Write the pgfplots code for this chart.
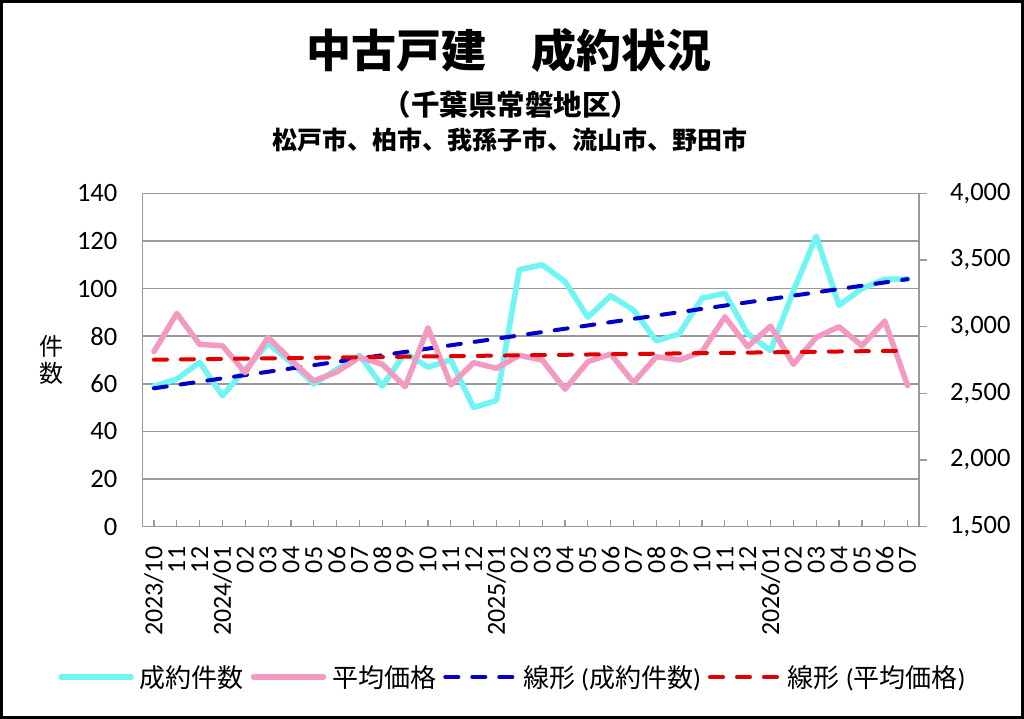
\documentclass[border=0pt]{standalone}
\usepackage{fontspec}
\setmainfont{Carlito}
\newfontfamily\jp{Noto Sans CJK JP}
\usepackage{pgfplots}
\usepackage{pgfplotstable}
\pgfplotsset{compat=1.18}
\definecolor{cCyan}{HTML}{70F5F5}
\definecolor{cPink}{HTML}{F49AC2}
\definecolor{cBlue}{HTML}{0000C8}
\definecolor{cRed}{HTML}{E00000}
\definecolor{cGrid}{HTML}{9A9A9A}

\pgfplotstableread{
i  count price
0  59  2812
1  62  3100
2  69  2867
3  55  2857
4  66  2655
5  77  2920
6  69  2750
7  60  2593
8  66  2660
9  72  2770
10 59  2718
11 73  2550
12 67  2992
13 70  2563
14 50  2730
15 53  2688
16 108 2785
17 110 2750
18 103 2531
19 88  2737
20 97  2795
21 91  2580
22 78  2775
23 81  2750
24 96  2812
25 98  3074
26 81  2850
27 74  3005
28 99  2718
29 122 2920
30 93  3000
31 100 2857
32 104 3042
33 104 2558
}\datatable

\begin{document}
\begin{tikzpicture}[x=1pt,y=1pt]
\useasboundingbox (0,0) rectangle (1024,719);
\draw[line width=3pt] (1.5,1.5) rectangle (1022.5,717.5);
\node[font=\jp\bfseries\fontsize{45}{54}\selectfont] at (509,669) {中古戸建　成約状況};
\node[font=\jp\bfseries\fontsize{28.5}{34}\selectfont] at (511,614) {（千葉県常磐地区）};
\node[font=\jp\bfseries\fontsize{25}{30}\selectfont] at (510,579) {松戸市、柏市、我孫子市、流山市、野田市};
\node[font=\jp\fontsize{24}{27}\selectfont, align=center, inner sep=0pt] at (51,359) {件\\数};

\begin{axis}[
  at={(142.5pt,192.5pt)}, anchor=south west,
  scale only axis, width=776.5pt, height=333pt,
  xmin=-0.5, xmax=33.5, ymin=0, ymax=140,
  xtick={0,...,33},
  xticklabels={2023/10,11,12,2024/01,02,03,04,05,06,07,08,09,10,11,12,2025/01,02,03,04,05,06,07,08,09,10,11,12,2026/01,02,03,04,05,06,07},
  ytick={0,20,...,140},
  ymajorgrids, major grid style={cGrid, line width=1.5pt},
  axis line style={cGrid, line width=1.5pt},
  tick pos=left,
  ytick style={draw=none},
  xtick style={cGrid, line width=1.2pt},
  tick align=inside, major tick length=6pt,
  xticklabel style={rotate=90, anchor=east, inner sep=0pt, font=\fontsize{26}{30}\selectfont},
  xticklabel shift=20pt,
  yticklabel style={anchor=east, inner sep=0pt, xshift=-25pt, font=\fontsize{26.5}{30}\selectfont},
  /pgf/number format/assume math mode=true,
  clip=false,
]
\addplot[cCyan, line width=5.5pt, line join=round, line cap=round] table[x=i, y=count] {\datatable};
\addplot[cBlue, line width=4pt, line cap=round, dash pattern=on 13pt off 14pt] coordinates {(0,58.1) (33,104)};
\end{axis}

\begin{axis}[
  at={(142.5pt,192.5pt)}, anchor=south west,
  scale only axis, width=776.5pt, height=333pt,
  xmin=-0.5, xmax=33.5, ymin=1500, ymax=4000,
  ytick={1500,2000,...,4000},
  scaled y ticks=false,
  hide x axis,
  axis line style={draw=none},
  ytick pos=right,
  ytick style={cGrid, line width=1.5pt},
  tick align=outside, major tick length=8pt,
  yticklabel style={anchor=west, inner sep=0pt, xshift=23pt, font=\fontsize{26.5}{30}\selectfont},
  /pgf/number format/1000 sep={,},
  /pgf/number format/assume math mode=true,
  legend style={at={(0.4758,-0.452)}, anchor=center, draw=none, fill=none,
    legend columns=4, font=\fontsize{26}{30}\selectfont,
    nodes={inner sep=0pt},
    /tikz/every odd column/.append style={column sep=6pt},
    /tikz/every even column/.append style={column sep=7pt}},
  legend image code/.code={\draw[#1] (0pt,0pt) -- (70pt,0pt);},
  clip=false,
]
\addlegendimage{cCyan, line width=5.5pt, line cap=round}
\addlegendentry{{\jp 成約件数}}
\addplot[cPink, line width=5.5pt, line join=round, line cap=round] table[x=i, y=price] {\datatable};
\addlegendentry{{\jp 平均価格}}
\addlegendimage{cBlue, line width=4pt, line cap=round, dash pattern=on 13pt off 14pt}
\addlegendentry{{\jp 線形} ({\jp 成約件数})}
\addplot[cRed, line width=4pt, line cap=round, dash pattern=on 13pt off 14pt] coordinates {(0,2752) (33,2820)};
\addlegendentry{{\jp 線形} ({\jp 平均価格})}
\end{axis}
\end{tikzpicture}
\end{document}
